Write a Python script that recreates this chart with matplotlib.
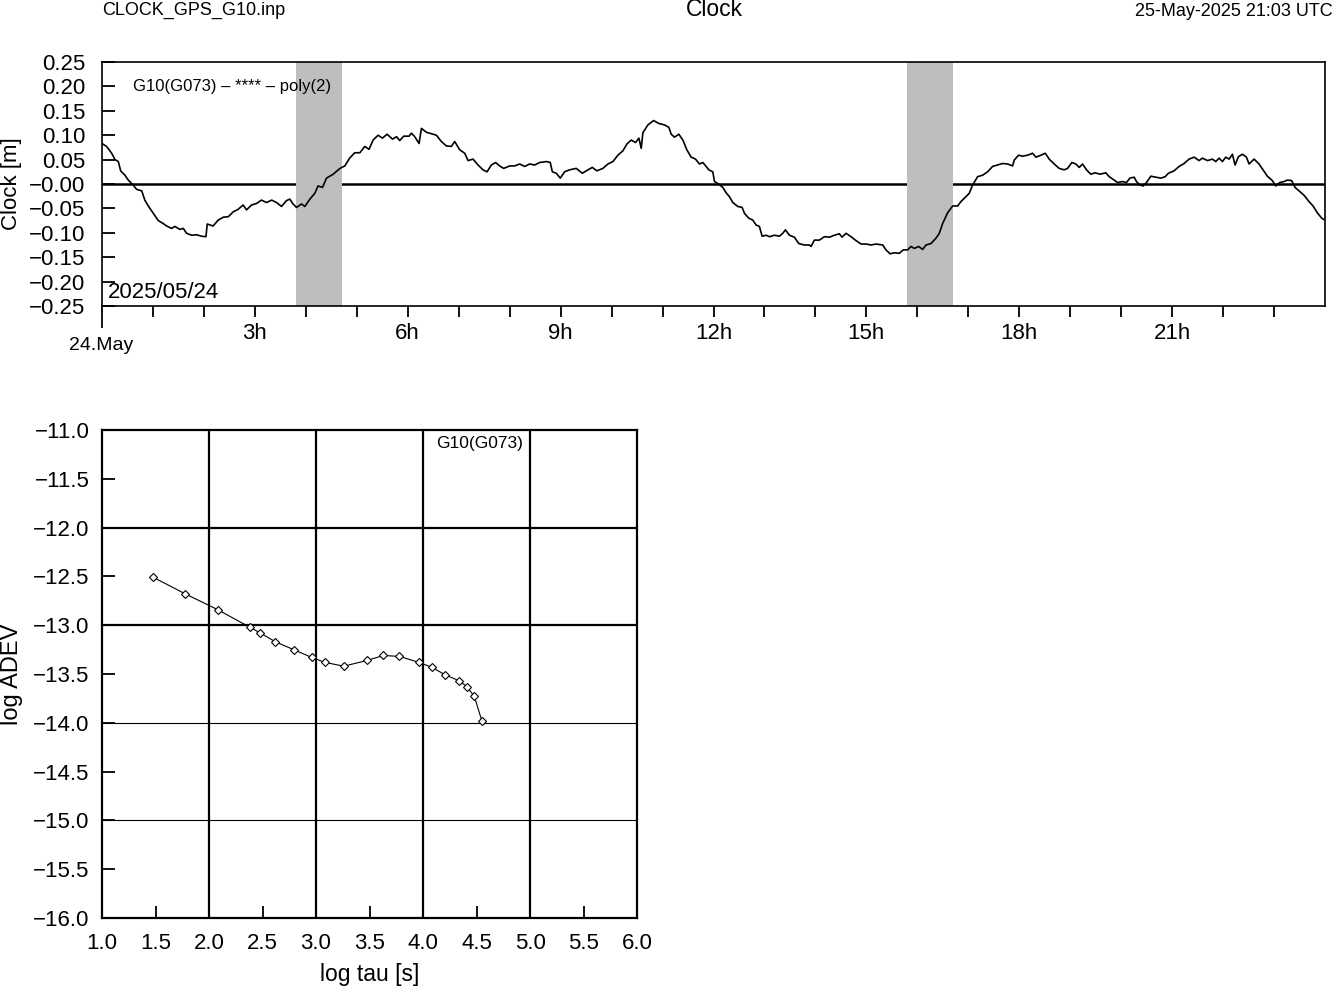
"""
Clock residuals of G10 (G073) over one day plus its Allan deviation.

Run:
    python3 plot.py

Saves out.png next to the working directory.
"""

from __future__ import annotations

import matplotlib

matplotlib.use("Agg")
import matplotlib.pyplot as plt
from matplotlib.ticker import FuncFormatter

plt.rcParams["font.family"] = ["Liberation Sans", "DejaVu Sans"]

FIG_W, FIG_H = 1333, 989  # pixels at dpi 100

# Clock residual [m] against hour of 24 May 2025
CLOCK_HOURS = [
    0.0, 0.09, 0.19, 0.255, 0.32, 0.366, 0.45, 0.516, 0.61, 0.68,
    0.78, 0.84, 0.908, 1.006, 1.105, 1.2, 1.268, 1.366, 1.43, 1.53,
    1.595, 1.66, 1.76, 1.856, 1.954, 2.04, 2.065, 2.18, 2.28, 2.38,
    2.48, 2.575, 2.67, 2.77, 2.836, 2.935, 3.03, 3.13, 3.23, 3.33,
    3.425, 3.523, 3.62, 3.686, 3.75, 3.817, 3.915, 3.98, 4.08, 4.176,
    4.24, 4.327, 4.405, 4.536, 4.67, 4.765, 4.86, 4.96, 5.06, 5.157,
    5.24, 5.32, 5.418, 5.503, 5.595, 5.7, 5.78, 5.843, 5.92, 6.026,
    6.072, 6.137, 6.222, 6.268, 6.366, 6.497, 6.562, 6.66, 6.758, 6.856,
    6.922, 7.02, 7.118, 7.183, 7.281, 7.379, 7.477, 7.556, 7.641, 7.725,
    7.804, 7.882, 8.0, 8.098, 8.196, 8.294, 8.392, 8.49, 8.588, 8.719,
    8.797, 8.837, 8.915, 8.993, 9.078, 9.176, 9.307, 9.425, 9.536, 9.621,
    9.712, 9.83, 9.928, 10.026, 10.124, 10.222, 10.301, 10.386, 10.471, 10.536,
    10.582, 10.614, 10.712, 10.824, 10.928, 11.039, 11.124, 11.17, 11.235, 11.32,
    11.399, 11.477, 11.562, 11.647, 11.725, 11.791, 11.856, 11.908,
    11.986, 12.019, 12.085, 12.183, 12.248, 12.313, 12.379, 12.477, 12.562, 12.607,
    12.692, 12.771, 12.836, 12.901, 12.954, 13.032, 13.098, 13.196, 13.294, 13.359,
    13.411, 13.49, 13.588, 13.673, 13.784, 13.882, 13.915, 13.98, 14.078, 14.176,
    14.274, 14.372, 14.47, 14.522, 14.601, 14.699, 14.797, 14.895, 14.993, 15.091,
    15.189, 15.32, 15.385, 15.464, 15.549, 15.647, 15.725, 15.81, 15.876, 15.941,
    16.026, 16.104, 16.17, 16.268, 16.366, 16.431, 16.497, 16.594, 16.693, 16.791,
    16.856, 16.954, 17.019, 17.085, 17.183, 17.281, 17.379, 17.477, 17.575, 17.673,
    17.771, 17.869, 17.902, 17.986,
    18.065, 18.163, 18.262, 18.327, 18.425, 18.51, 18.588, 18.686, 18.784, 18.882,
    18.948, 19.033, 19.111, 19.177, 19.242, 19.32, 19.405, 19.49, 19.582, 19.699,
    19.765, 19.863, 19.928, 20.026, 20.105, 20.17, 20.255, 20.301, 20.366, 20.431,
    20.497, 20.582, 20.68, 20.778, 20.863, 20.928, 21.039, 21.137, 21.235, 21.333,
    21.431, 21.529, 21.595, 21.693, 21.791, 21.856, 21.922, 21.987, 22.052, 22.118,
    22.183, 22.235, 22.301, 22.379, 22.458, 22.51, 22.608, 22.706, 22.784, 22.869,
    22.967, 23.033, 23.111, 23.196, 23.261, 23.346, 23.412, 23.49, 23.588, 23.686,
    23.765, 23.85, 23.935, 23.98,
]
CLOCK_M = [
    0.083, 0.077, 0.063, 0.050, 0.046, 0.027, 0.018, 0.008, -0.002, -0.011,
    -0.014, -0.033, -0.045, -0.060, -0.075, -0.081, -0.086, -0.091, -0.087, -0.093,
    -0.091, -0.101, -0.105, -0.104, -0.107, -0.108, -0.082, -0.086, -0.074, -0.068,
    -0.067, -0.057, -0.052, -0.043, -0.053, -0.043, -0.040, -0.033, -0.038, -0.033,
    -0.038, -0.046, -0.034, -0.031, -0.041, -0.048, -0.041, -0.046, -0.031, -0.019,
    -0.004, -0.007, 0.012, 0.020, 0.032, 0.037, 0.053, 0.064, 0.064, 0.077,
    0.071, 0.090, 0.100, 0.094, 0.102, 0.092, 0.097, 0.089, 0.098, 0.098,
    0.104, 0.097, 0.083, 0.114, 0.106, 0.102, 0.100, 0.087, 0.078, 0.077,
    0.087, 0.070, 0.063, 0.048, 0.051, 0.039, 0.029, 0.025, 0.039, 0.044,
    0.037, 0.032, 0.037, 0.037, 0.041, 0.036, 0.041, 0.039, 0.044, 0.046,
    0.044, 0.025, 0.022, 0.012, 0.025, 0.029, 0.032, 0.022, 0.029, 0.034,
    0.027, 0.032, 0.041, 0.046, 0.059, 0.068, 0.082, 0.090, 0.085, 0.094,
    0.073, 0.105, 0.121, 0.130, 0.124, 0.121, 0.116, 0.102, 0.096, 0.102,
    0.090, 0.070, 0.055, 0.051, 0.041, 0.044, 0.036, 0.029,
    0.025, 0.005, 0.001, -0.007, -0.018, -0.026, -0.038, -0.046, -0.048, -0.060,
    -0.070, -0.074, -0.084, -0.087, -0.107, -0.105, -0.108, -0.105, -0.107, -0.101,
    -0.094, -0.105, -0.109, -0.122, -0.125, -0.125, -0.128, -0.115, -0.115, -0.108,
    -0.109, -0.105, -0.102, -0.109, -0.101, -0.108, -0.116, -0.123, -0.123, -0.125,
    -0.123, -0.125, -0.135, -0.143, -0.141, -0.142, -0.135, -0.135, -0.128, -0.132,
    -0.128, -0.134, -0.125, -0.122, -0.111, -0.101, -0.081, -0.059, -0.045, -0.045,
    -0.036, -0.026, -0.019, -0.002, 0.015, 0.018, 0.025, 0.036, 0.039, 0.042,
    0.041, 0.037, 0.049, 0.059,
    0.057, 0.059, 0.063, 0.055, 0.059, 0.063, 0.051, 0.041, 0.032, 0.029,
    0.032, 0.044, 0.041, 0.034, 0.041, 0.029, 0.020, 0.023, 0.020, 0.023,
    0.015, 0.008, 0.003, 0.005, 0.003, 0.012, 0.014, 0.005, -0.002, -0.004,
    0.003, 0.016, 0.014, 0.012, 0.015, 0.022, 0.027, 0.036, 0.042, 0.051,
    0.055, 0.048, 0.053, 0.048, 0.051, 0.046, 0.053, 0.046, 0.055, 0.051,
    0.061, 0.039, 0.056, 0.061, 0.055, 0.041, 0.051, 0.041, 0.029, 0.016,
    0.007, -0.004, 0.003, 0.005, 0.008, 0.007, -0.007, -0.014, -0.023, -0.036,
    -0.045, -0.059, -0.070, -0.073,
]
# Grey bands (hours) drawn behind the residuals
SHADED_HOURS = [(3.8, 4.7), (15.8, 16.7)]

HOUR_TICKS = list(range(1, 24))
HOUR_LABELS = {3: "3h", 6: "6h", 9: "9h", 12: "12h", 15: "15h", 18: "18h", 21: "21h"}
CLOCK_TICKS = [0.25, 0.20, 0.15, 0.10, 0.05, 0.0, -0.05, -0.10, -0.15, -0.20, -0.25]
CLOCK_TICK_LABELS = ["0.25", "0.20", "0.15", "0.10", "0.05", "\u22120.00",
                     "\u22120.05", "\u22120.10", "\u22120.15", "\u22120.20", "\u22120.25"]

# Allan deviation, both axes log10
LOG_TAU = [1.48, 1.78, 2.08, 2.38, 2.48, 2.62, 2.79, 2.96, 3.08, 3.26,
           3.48, 3.63, 3.78, 3.96, 4.08, 4.21, 4.34, 4.41, 4.48, 4.55]
LOG_ADEV = [-12.51, -12.68, -12.84, -13.02, -13.08, -13.17, -13.25, -13.33, -13.38, -13.42,
            -13.36, -13.31, -13.32, -13.38, -13.43, -13.51, -13.57, -13.63, -13.73, -13.98]
THICK_TAU_GRID = [2.0, 3.0, 4.0, 5.0]
THICK_ADEV_GRID = [-12.0, -13.0]
THIN_ADEV_GRID = [-14.0, -15.0]

TICK_SIZE = 16


def _px_rect(left: float, top: float, right: float, bottom: float) -> list:
    return [left / FIG_W, 1 - bottom / FIG_H, (right - left) / FIG_W, (bottom - top) / FIG_H]


def _minus(value: float, _pos=None) -> str:
    return f"{value:.1f}".replace("-", "\u2212")


def _fig_text(fig, x_px: float, y_px: float, text: str, **kwargs) -> None:
    fig.text(x_px / FIG_W, 1 - y_px / FIG_H, text, **kwargs)


def draw_clock(fig) -> None:
    ax = fig.add_axes(_px_rect(102, 62, 1325, 306))
    ax.axhline(0.0, color="black", linewidth=1.8, zorder=1)
    for start, end in SHADED_HOURS:
        ax.axvspan(start, end, color="#bebebe", linewidth=0, zorder=2)
    ax.plot(CLOCK_HOURS, CLOCK_M, color="black", linewidth=1.2, zorder=3)

    ax.set_xlim(0, 24)
    ax.set_ylim(-0.25, 0.25)
    ax.set_xticks(HOUR_TICKS)
    ax.set_xticklabels([HOUR_LABELS.get(h, "") for h in HOUR_TICKS])
    # start of day gets a longer tick
    ax.set_xticks([0], minor=True)
    ax.set_yticks(CLOCK_TICKS)
    ax.set_yticklabels(CLOCK_TICK_LABELS)
    ax.tick_params(axis="x", direction="out", length=8, width=1.3, pad=4, labelsize=TICK_SIZE)
    ax.tick_params(axis="x", which="minor", direction="out", length=16, width=1.3)
    ax.tick_params(axis="y", direction="in", length=9, width=1.3, pad=12, labelsize=TICK_SIZE)
    for spine in ax.spines.values():
        spine.set_linewidth(1.2)

    ax.text(0.025, 0.898, "G10(G073) \u2013 **** \u2013 poly(2)", transform=ax.transAxes,
            fontsize=12, ha="left", va="center", zorder=4)
    ax.text(0.005, 0.055, "2025/05/24", transform=ax.transAxes,
            fontsize=16, ha="left", va="center", zorder=4)

    _fig_text(fig, 101, 346, "24.May", fontsize=14, ha="center", va="center")
    _fig_text(fig, 12, 184, "Clock [m]", fontsize=16, rotation=90, ha="center", va="center")


def draw_adev(fig) -> None:
    ax = fig.add_axes(_px_rect(102, 430, 637, 918))
    for x in THICK_TAU_GRID:
        ax.axvline(x, color="black", linewidth=1.6, zorder=1)
    for y in THICK_ADEV_GRID:
        ax.axhline(y, color="black", linewidth=1.6, zorder=1)
    for y in THIN_ADEV_GRID:
        ax.axhline(y, color="black", linewidth=0.8, zorder=1)
    ax.plot(LOG_TAU, LOG_ADEV, color="black", linewidth=0.8, marker="D", markersize=4.5,
            markerfacecolor="white", markeredgecolor="black", markeredgewidth=0.8, zorder=3)

    ax.set_xlim(1.0, 6.0)
    ax.set_ylim(-16.0, -11.0)
    ax.set_xticks([1.0 + 0.5 * i for i in range(11)])
    ax.set_yticks([-16.0 + 0.5 * i for i in range(11)])
    ax.xaxis.set_major_formatter(FuncFormatter(_minus))
    ax.yaxis.set_major_formatter(FuncFormatter(_minus))
    ax.tick_params(axis="x", direction="in", length=9, width=1.3, pad=11, labelsize=TICK_SIZE)
    ax.tick_params(axis="y", direction="in", length=9, width=1.3, pad=9, labelsize=TICK_SIZE)
    for spine in ax.spines.values():
        spine.set_linewidth(1.6)

    ax.text(4.53, -11.14, "G10(G073)", fontsize=12.5, ha="center", va="center")
    _fig_text(fig, 370, 975, "log tau [s]", fontsize=16.5, ha="center", va="center")
    _fig_text(fig, 12, 674, "log ADEV", fontsize=17, rotation=90, ha="center", va="center")


def main() -> None:
    fig = plt.figure(figsize=(FIG_W / 100, FIG_H / 100), dpi=100)
    _fig_text(fig, 102, 10, "CLOCK_GPS_G10.inp", fontsize=13, ha="left", va="center")
    _fig_text(fig, 714, 10, "Clock", fontsize=16.5, ha="center", va="center")
    _fig_text(fig, 1333, 11, "25-May-2025 21:03 UTC", fontsize=13, ha="right", va="center")
    draw_clock(fig)
    draw_adev(fig)
    fig.savefig("out.png", dpi=100)
    plt.close(fig)


if __name__ == "__main__":
    main()
